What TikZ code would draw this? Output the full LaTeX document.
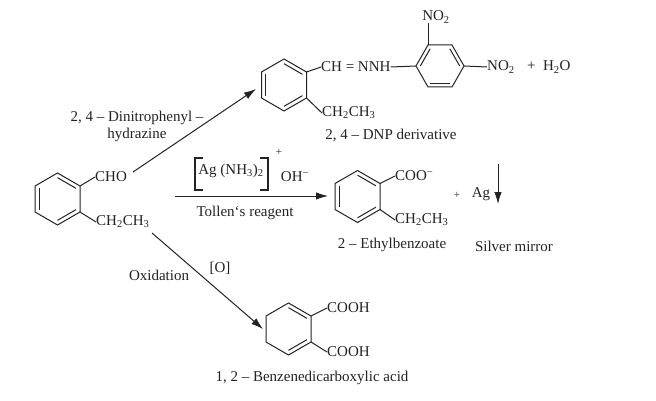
\documentclass[tikz,border=0pt]{standalone}
\usepackage{fontspec}
\setmainfont{Liberation Serif}
\usetikzlibrary{arrows.meta,calc}
\definecolor{ink}{RGB}{35,35,35}
\newcommand\chemdbl[3]{\draw[bond] ($(#1)!0.82!(#2)$) -- ($(#1)!0.82!(#3)$);}
\tikzset{
  bond/.style={draw=ink,line width=1pt},
  arr/.style={draw=ink,line width=1pt,-{Latex[length=12pt,width=7.5pt]}},
  lbl/.style={text=ink,font=\fontsize{15}{17}\selectfont,inner sep=0pt},
  grp/.style={lbl,anchor=west},
  hexv/.pic={
    \coordinate (-c) at (0,0);
    \coordinate (-T) at (0,-26);
    \coordinate (-UR) at (22.5,-13);
    \coordinate (-LR) at (22.5,13);
    \coordinate (-B) at (0,26);
    \coordinate (-LL) at (-22.5,13);
    \coordinate (-UL) at (-22.5,-13);
    \draw[bond] (-T)--(-UR)--(-LR)--(-B)--(-LL)--(-UL)--cycle;
  },
  hexh/.pic={
    \coordinate (-c) at (0,0);
    \coordinate (-L) at (-24,0);
    \coordinate (-TL) at (-12,-21);
    \coordinate (-TR) at (12,-21);
    \coordinate (-R) at (24,0);
    \coordinate (-BR) at (12,21);
    \coordinate (-BL) at (-12,21);
    \draw[bond] (-L)--(-TL)--(-TR)--(-R)--(-BR)--(-BL)--cycle;
  }
}
\begin{document}
\begin{tikzpicture}[x=1pt,y=-1pt]
\useasboundingbox[fill=white] (0,0) rectangle (656,401);
% reactant
\pic (r1) at (57.5,199) {hexv};
\chemdbl{r1-c}{r1-UL}{r1-LL}
\chemdbl{r1-c}{r1-T}{r1-UR}
\chemdbl{r1-c}{r1-LR}{r1-B}
\node[grp] (cho) at (95,177) {CHO};
\node[grp] (et1) at (96,222) {CH\textsubscript{2}CH\textsubscript{3}};
\draw[bond] (r1-UR) -- (cho.west);
\draw[bond] (r1-LR) -- (et1.west);
% DNP derivative
\pic (r2) at (284,85) {hexv};
\chemdbl{r2-c}{r2-UL}{r2-LL}
\chemdbl{r2-c}{r2-T}{r2-UR}
\chemdbl{r2-c}{r2-LR}{r2-B}
\node[grp] (hyd) at (321,67) {CH = NNH};
\node[grp] (et2) at (322,113) {CH\textsubscript{2}CH\textsubscript{3}};
\draw[bond] (r2-UR) -- (hyd.west);
\draw[bond] (r2-LR) -- (et2.west);
\pic (r3) at (440,66) {hexh};
\chemdbl{r3-c}{r3-L}{r3-TL}
\chemdbl{r3-c}{r3-TR}{r3-R}
\chemdbl{r3-c}{r3-BR}{r3-BL}
\draw[bond] (hyd.east) -- (r3-L);
\node[lbl] (no2a) at (436,17) {NO\textsubscript{2}};
\draw[bond] (r3-TL) -- (r3-TL |- no2a.south);
\node[grp] (no2b) at (487,67) {NO\textsubscript{2}};
\draw[bond] (r3-R) -- (no2b.west);
\node[grp] (h2o) at (527,67) {+\enspace H\textsubscript{2}O};
\node[lbl] (dnpl) at (391,135) {2, 4 – DNP derivative};
% arrow 1
\coordinate (a1s) at (133,172);
\coordinate (a1e) at (256,89);
\draw[arr] (a1s) -- (a1e);
\node[lbl,align=center] (reag1) at (137,126) {2, 4 – Dinitrophenyl –\\hydrazine};
% Tollen's
\coordinate (a2s) at (175,196);
\coordinate (a2e) at (328,196);
\draw[arr] (a2s) -- (a2e);
\node[lbl] (agc) at (231,171) {Ag (NH\textsubscript{3})\textsubscript{2}};
\draw[bond,line width=1.2pt] (203,158) -- (195,158) -- (195,190) -- (203,190);
\draw[bond,line width=1.2pt] (260,158) -- (268,158) -- (268,190) -- (260,190);
\node[lbl,font=\fontsize{11}{11}\selectfont] (plus1) at (279,152) {+};
\node[lbl] (oh) at (295,177) {OH\textsuperscript{−}};
\node[lbl] (tol) at (245,213) {Tollen`s reagent};
% benzoate
\pic (r4) at (357.5,196.5) {hexv};
\chemdbl{r4-c}{r4-UL}{r4-LL}
\chemdbl{r4-c}{r4-T}{r4-UR}
\chemdbl{r4-c}{r4-LR}{r4-B}
\node[grp] (coo) at (395,176) {COO\textsuperscript{−}};
\node[grp] (et4) at (395,220) {CH\textsubscript{2}CH\textsubscript{3}};
\draw[bond] (r4-UR) -- (coo.west);
\draw[bond] (r4-LR) -- (et4.west);
\node[lbl] (ebz) at (392,245) {2 – Ethylbenzoate};
\node[lbl,font=\fontsize{11}{11}\selectfont] (plus2) at (457,195) {+};
\node[lbl] (ag) at (481,194) {Ag};
\coordinate (a3s) at (498,164);
\coordinate (a3e) at (498,204);
\draw[arr] (a3s) -- (a3e);
\node[lbl] (silv) at (514,246) {Silver mirror};
% oxidation
\coordinate (a4s) at (152,233);
\coordinate (a4e) at (263,329);
\draw[arr] (a4s) -- (a4e);
\node[lbl] (oxl) at (159,275) {Oxidation};
\node[lbl] (oxo) at (220,268) {[O]};
\pic (r5) at (288.5,329) {hexv};
\chemdbl{r5-c}{r5-T}{r5-UR}
\chemdbl{r5-c}{r5-LR}{r5-B}
\node[grp] (cooh1) at (327,308) {COOH};
\node[grp] (cooh2) at (327,352) {COOH};
\draw[bond] (r5-UR) -- (cooh1.west);
\draw[bond] (r5-LR) -- (cooh2.west);
\node[lbl] (bda) at (312,378) {1, 2 – Benzenedicarboxylic acid};
\end{tikzpicture}
\end{document}
